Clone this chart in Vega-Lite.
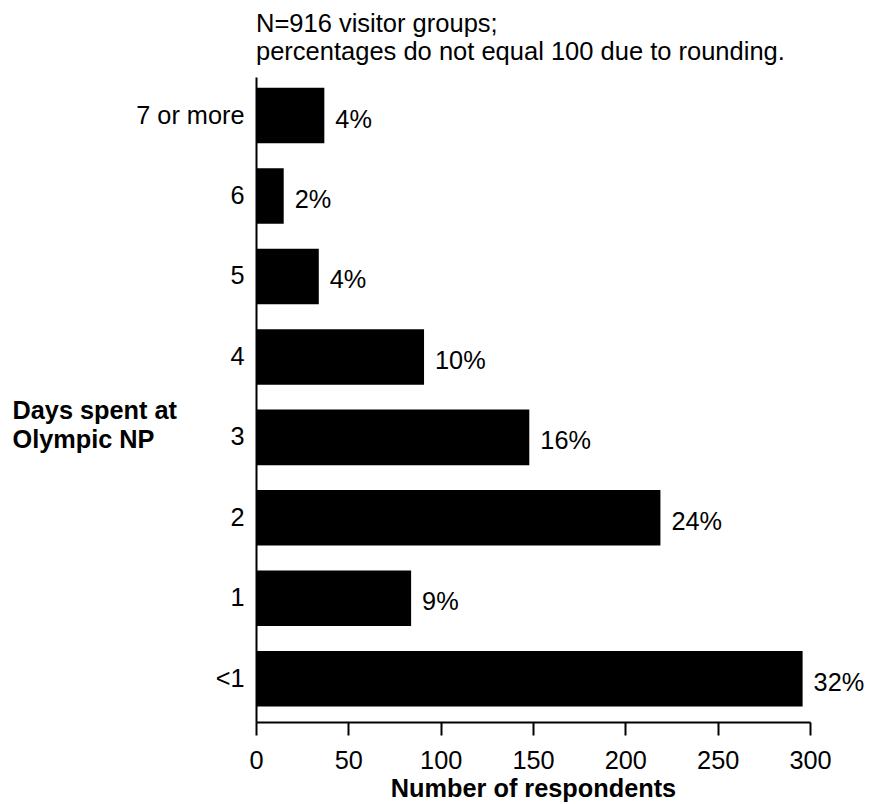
{
  "$schema": "https://vega.github.io/schema/vega-lite/v6.json",
  "width": 554,
  "height": 645,
  "autosize": {"type": "none"},
  "padding": {"left": 256, "top": 77, "right": 59, "bottom": 82},
  "background": "white",
  "config": {
    "font": "Liberation Sans",
    "view": {"stroke": null},
    "axis": {"grid": false}
  },
  "title": {
    "text": ["N=916 visitor groups;", "percentages do not equal 100 due to rounding."],
    "anchor": "start",
    "frame": "group",
    "fontSize": 25.5,
    "fontWeight": "normal",
    "color": "black",
    "lineHeight": 28,
    "offset": 12
  },
  "data": {
    "values": [
      {"days": "7 or more", "count": 37, "pct": "4%"},
      {"days": "6", "count": 15, "pct": "2%"},
      {"days": "5", "count": 34, "pct": "4%"},
      {"days": "4", "count": 91, "pct": "10%"},
      {"days": "3", "count": 148, "pct": "16%"},
      {"days": "2", "count": 219, "pct": "24%"},
      {"days": "1", "count": 84, "pct": "9%"},
      {"days": "<1", "count": 296, "pct": "32%"}
    ]
  },
  "encoding": {
    "y": {
      "field": "days",
      "type": "nominal",
      "sort": null,
      "scale": {"paddingInner": 0.31, "paddingOuter": 0.163, "align": 0.41},
      "axis": {
        "title": ["Days spent at", "Olympic NP"],
        "titleAngle": 0,
        "titleAlign": "left",
        "titleBaseline": "middle",
        "titleX": -244,
        "titleY": 333,
        "titleFontSize": 25.3,
        "titleFontWeight": "bold",
        "titleColor": "black",
        "titleLineHeight": 29,
        "ticks": false,
        "tickSize": 0,
        "labelPadding": 12,
        "labelFontSize": 25.3,
        "labelColor": "black",
        "domainColor": "black",
        "domainWidth": 2
      }
    },
    "x": {
      "field": "count",
      "type": "quantitative",
      "scale": {"domain": [0, 300], "nice": false},
      "axis": {
        "title": "Number of respondents",
        "values": [0, 50, 100, 150, 200, 250, 300],
        "titleFontSize": 25.3,
        "titleFontWeight": "bold",
        "titleColor": "black",
        "titlePadding": 3,
        "labelFontSize": 25.3,
        "labelColor": "black",
        "labelPadding": 13,
        "labelFlush": false,
        "tickSize": 13,
        "tickWidth": 2,
        "tickColor": "black",
        "domainColor": "black",
        "domainWidth": 2
      }
    }
  },
  "layer": [
    {"mark": {"type": "bar", "color": "black"}},
    {
      "mark": {"type": "text", "align": "left", "baseline": "middle", "dx": 11, "dy": 4, "fontSize": 25.3, "color": "black"},
      "encoding": {"text": {"field": "pct"}}
    }
  ]
}
